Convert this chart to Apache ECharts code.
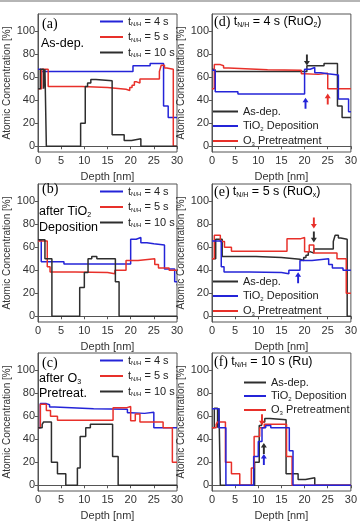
<!DOCTYPE html>
<html>
<head>
<meta charset="utf-8">
<script src="https://cdn.jsdelivr.net/npm/echarts@6/dist/echarts.min.js"></script>
<style>
  html, body { margin: 0; padding: 0; background: #fff; }
  #main { width: 360px; height: 527px; }
</style>
</head>
<body>
<div id="main"></div>
<script>
// depth [nm] where each level starts, atomic concentration [%] (step profiles)
var asdep4 = [[0,67],[0.6,65],[20.5,70],[24.2,72],[27.1,35],[28.1,25],[30,25]];
var asdep5 = [[0,50],[0.8,67],[2.2,52],[9.5,51],[15,49.5],[19,48.5],[19.8,51],[20.3,53],[20.8,56],[21.3,55],[22,58.5],[26.2,65],[26.6,70.5],[27.3,68],[27.8,67],[29.2,0],[30,0]];
var asdep10 = [[0,50],[0.5,67],[1.2,50],[1.5,67],[1.8,0],[9.2,20],[10.2,52],[10.7,55],[11.4,58],[12.5,57],[16,10],[18.6,5],[20.2,6.5],[22.2,0],[30,0]];

var tio2_4 = [[0,66],[0.7,47.5],[5.6,45.5],[20,67],[21.2,68.5],[22.2,64],[23.5,63],[25,62],[27.3,41],[29.5,30],[30,30]];
var tio2_5 = [[0,65.5],[2,43],[2.6,38.5],[8,38],[15,37],[16.6,40],[19,48.5],[21.6,50],[25.2,45],[26,42],[28.3,40],[30,40]];
var tio2_10 = [[0,66.5],[1.5,50],[3,0],[9,25],[10,38],[10.8,50],[11.6,52],[12.7,50],[16.7,30],[17.5,0],[30,0]];

var o3_4 = [[0,50],[0.5,71],[1.8,70],[2.5,68],[3.6,66.5],[12,66],[19.3,63],[20,62.5],[23,63.5],[25,50],[30,50]];
var o3_5 = [[0,50],[0.5,70.5],[1.8,65],[2.7,60],[4.2,56.5],[16.2,67.5],[19.2,68.5],[20,56],[21,62],[22,55],[27,50],[29,20],[30,20]];
var o3_10 = [[0,50],[0.9,53],[1.2,55],[2.9,20],[4.2,10],[6,0],[8.5,15],[9.1,42.5],[10.3,50],[11.3,53],[16.1,25],[17.3,0],[30,0]];

var concTicks = [0, 20, 40, 60, 80, 100];
var timeNames = ['t = 4 s', 't = 5 s', 't = 10 s'];
var stepNames = ['As-dep.', 'TiO2 Deposition', 'O3 Pretreatment'];

// arrows: [depth, conc, direction, line]
var arrowsD = [[20.5, 75, 'down', 'black'], [20.2, 37.5, 'up', 'blue'], [25, 41, 'up', 'red']];
var arrowsE = [[22, 81, 'down', 'red'], [22, 69, 'down', 'black'], [18.6, 33.5, 'up', 'blue']];
var arrowsF = [[10.8, 57, 'down', 'red'], [11.2, 32, 'up', 'black'], [11.2, 22.5, 'up', 'blue']];

var SANS = 'Liberation Sans, Arial, sans-serif';
var SERIF = 'Liberation Serif, Times New Roman, serif';
var COLORS = { black: '#2e2e2e', blue: '#2424d8', red: '#e8302a' };
var ARROW = 'path://M5,0 L10,7 L6.6,7 L6.6,17 L3.4,17 L3.4,7 L0,7 Z';

var rich = {
  p: { fontFamily: SERIF, fontSize: 14, color: '#222' },
  t: { fontFamily: SANS, fontSize: 12.5, color: '#222' },
  s: { fontFamily: SANS, fontSize: 7, color: '#222', padding: [6, 0, 0, 0] }
};
var legendRich = {
  t: { fontFamily: SANS, fontSize: 11, color: '#222' },
  s: { fontFamily: SANS, fontSize: 6, color: '#222', padding: [6, 0, 0, 0] }
};

// grid boxes: a b c on the left, d e f on the right
var boxes = [
  [38, 14], [38, 184], [38, 353],
  [212, 14], [212, 184], [212, 353]
];

var grids = [], xAxes = [], yAxes = [];
boxes.forEach(function (b, i) {
  grids.push({ left: b[0], top: b[1], width: 139, height: 138, show: true,
    borderColor: '#555', borderWidth: 1, backgroundColor: 'transparent' });
  xAxes.push({
    type: 'value', gridIndex: i, min: 0, max: 30, interval: 5,
    name: 'Depth [nm]', nameLocation: 'middle', nameGap: 19,
    nameTextStyle: { fontFamily: SANS, fontSize: 11, color: '#333' },
    axisLine: { lineStyle: { color: '#555' } },
    axisTick: { length: 3, lineStyle: { color: '#555' } },
    axisLabel: { fontFamily: SANS, fontSize: 11, color: '#333', margin: 3 },
    splitLine: { show: false }
  });
  yAxes.push({
    type: 'value', gridIndex: i, min: -5, max: 115,
    name: 'Atomic Concentration [%]', nameLocation: 'middle', nameGap: 25,
    nameTextStyle: { fontFamily: SANS, fontSize: 10, color: '#333' },
    axisLine: { show: true, lineStyle: { color: '#555' } },
    axisTick: { show: true, length: 3, customValues: concTicks, lineStyle: { color: '#555' } },
    axisLabel: { fontFamily: SANS, fontSize: 11, color: '#333', margin: 3, customValues: concTicks },
    splitLine: { show: false }
  });
});

function stepSeries(name, data, key, idx, arrows) {
  var color = COLORS[key];
  var s = {
    type: 'line', name: name, data: data, xAxisIndex: idx, yAxisIndex: idx,
    step: 'end', symbol: 'none', lineStyle: { color: color, width: 1.5 },
    itemStyle: { color: color }
  };
  var marks = (arrows || []).filter(function (a) { return a[3] === key; }).map(function (a) {
    return { coord: [a[0], a[1]], symbolRotate: a[2] === 'down' ? 180 : 0 };
  });
  if (marks.length) {
    s.markPoint = { symbol: ARROW, symbolSize: [6, 11], label: { show: false },
      itemStyle: { color: color }, silent: true, data: marks };
  }
  return s;
}

var series = [
  // (a) as-dep.
  stepSeries(timeNames[0], asdep4, 'blue', 0),
  stepSeries(timeNames[1], asdep5, 'red', 0),
  stepSeries(timeNames[2], asdep10, 'black', 0),
  // (b) after TiO2
  stepSeries(timeNames[0], tio2_4, 'blue', 1),
  stepSeries(timeNames[1], tio2_5, 'red', 1),
  stepSeries(timeNames[2], tio2_10, 'black', 1),
  // (c) after O3
  stepSeries(timeNames[0], o3_4, 'blue', 2),
  stepSeries(timeNames[1], o3_5, 'red', 2),
  stepSeries(timeNames[2], o3_10, 'black', 2),
  // (d) 4 s
  stepSeries(stepNames[0], asdep4, 'black', 3, arrowsD),
  stepSeries(stepNames[2], o3_4, 'red', 3, arrowsD),
  stepSeries(stepNames[1], tio2_4, 'blue', 3, arrowsD),
  // (e) 5 s
  stepSeries(stepNames[0], asdep5, 'black', 4, arrowsE),
  stepSeries(stepNames[2], o3_5, 'red', 4, arrowsE),
  stepSeries(stepNames[1], tio2_5, 'blue', 4, arrowsE),
  // (f) 10 s
  stepSeries(stepNames[0], asdep10, 'black', 5, arrowsF),
  stepSeries(stepNames[2], o3_10, 'red', 5, arrowsF),
  stepSeries(stepNames[1], tio2_10, 'blue', 5, arrowsF)
];

function timeLabel(name) {
  return '{t|t}{s|N/H}{t| = ' + name.split('= ')[1] + '}';
}
function stepLabel(name) {
  if (name === 'TiO2 Deposition') return '{t|TiO}{s|2}{t| Deposition}';
  if (name === 'O3 Pretreatment') return '{t|O}{s|3}{t| Pretreatment}';
  return '{t|' + name + '}';
}
function legendAt(left, top, names, fmt, width, gap) {
  return {
    orient: 'vertical', left: left, top: top, data: names, icon: 'rect',
    itemWidth: width, itemHeight: 2, itemGap: gap, padding: 0,
    formatter: fmt, textStyle: { rich: legendRich }, selectedMode: false
  };
}
var legends = [
  legendAt(100, 16, timeNames, timeLabel, 23, 4),
  legendAt(100, 186, timeNames, timeLabel, 23, 4),
  legendAt(100, 355, timeNames, timeLabel, 23, 4),
  legendAt(213, 106, stepNames, stepLabel, 25, 3.5),
  legendAt(213, 276, stepNames, stepLabel, 25, 3.5),
  legendAt(244, 377, stepNames, stepLabel, 22, 2.5)
];

var notes = [
  [42, 24, '{p|(a)}'], [41, 44, '{t|As-dep.}'],
  [42, 189, '{p|(b)}'], [39, 212, '{t|after TiO}{s|2}'], [39, 228, '{t|Deposition}'],
  [42, 363, '{p|(c)}'], [39, 379, '{t|after O}{s|3}'], [39, 394, '{t|Pretreat.}'],
  [214, 22, '{p|(d)} {t|t}{s|N/H}{t| = 4 s (RuO}{s|2}{t|)}'],
  [214, 192, '{p|(e)} {t|t}{s|N/H}{t| = 5 s (RuO}{s|x}{t|)}'],
  [214, 362, '{p|(f)} {t|t}{s|N/H}{t| = 10 s (Ru)}']
];
var graphics = notes.map(function (n) {
  return { type: 'text', x: n[0], y: n[1], z: 100,
    style: { text: n[2], rich: rich, verticalAlign: 'middle', align: 'left' } };
});
graphics.push({ type: 'rect', shape: { x: 0, y: 0, width: 360, height: 2 }, style: { fill: '#b5b5b5' } });

var myChart = echarts.init(document.getElementById('main'));
myChart.setOption({
  animation: false,
  backgroundColor: '#fff',
  grid: grids,
  xAxis: xAxes,
  yAxis: yAxes,
  legend: legends,
  graphic: graphics,
  series: series
});
</script>
</body>
</html>
